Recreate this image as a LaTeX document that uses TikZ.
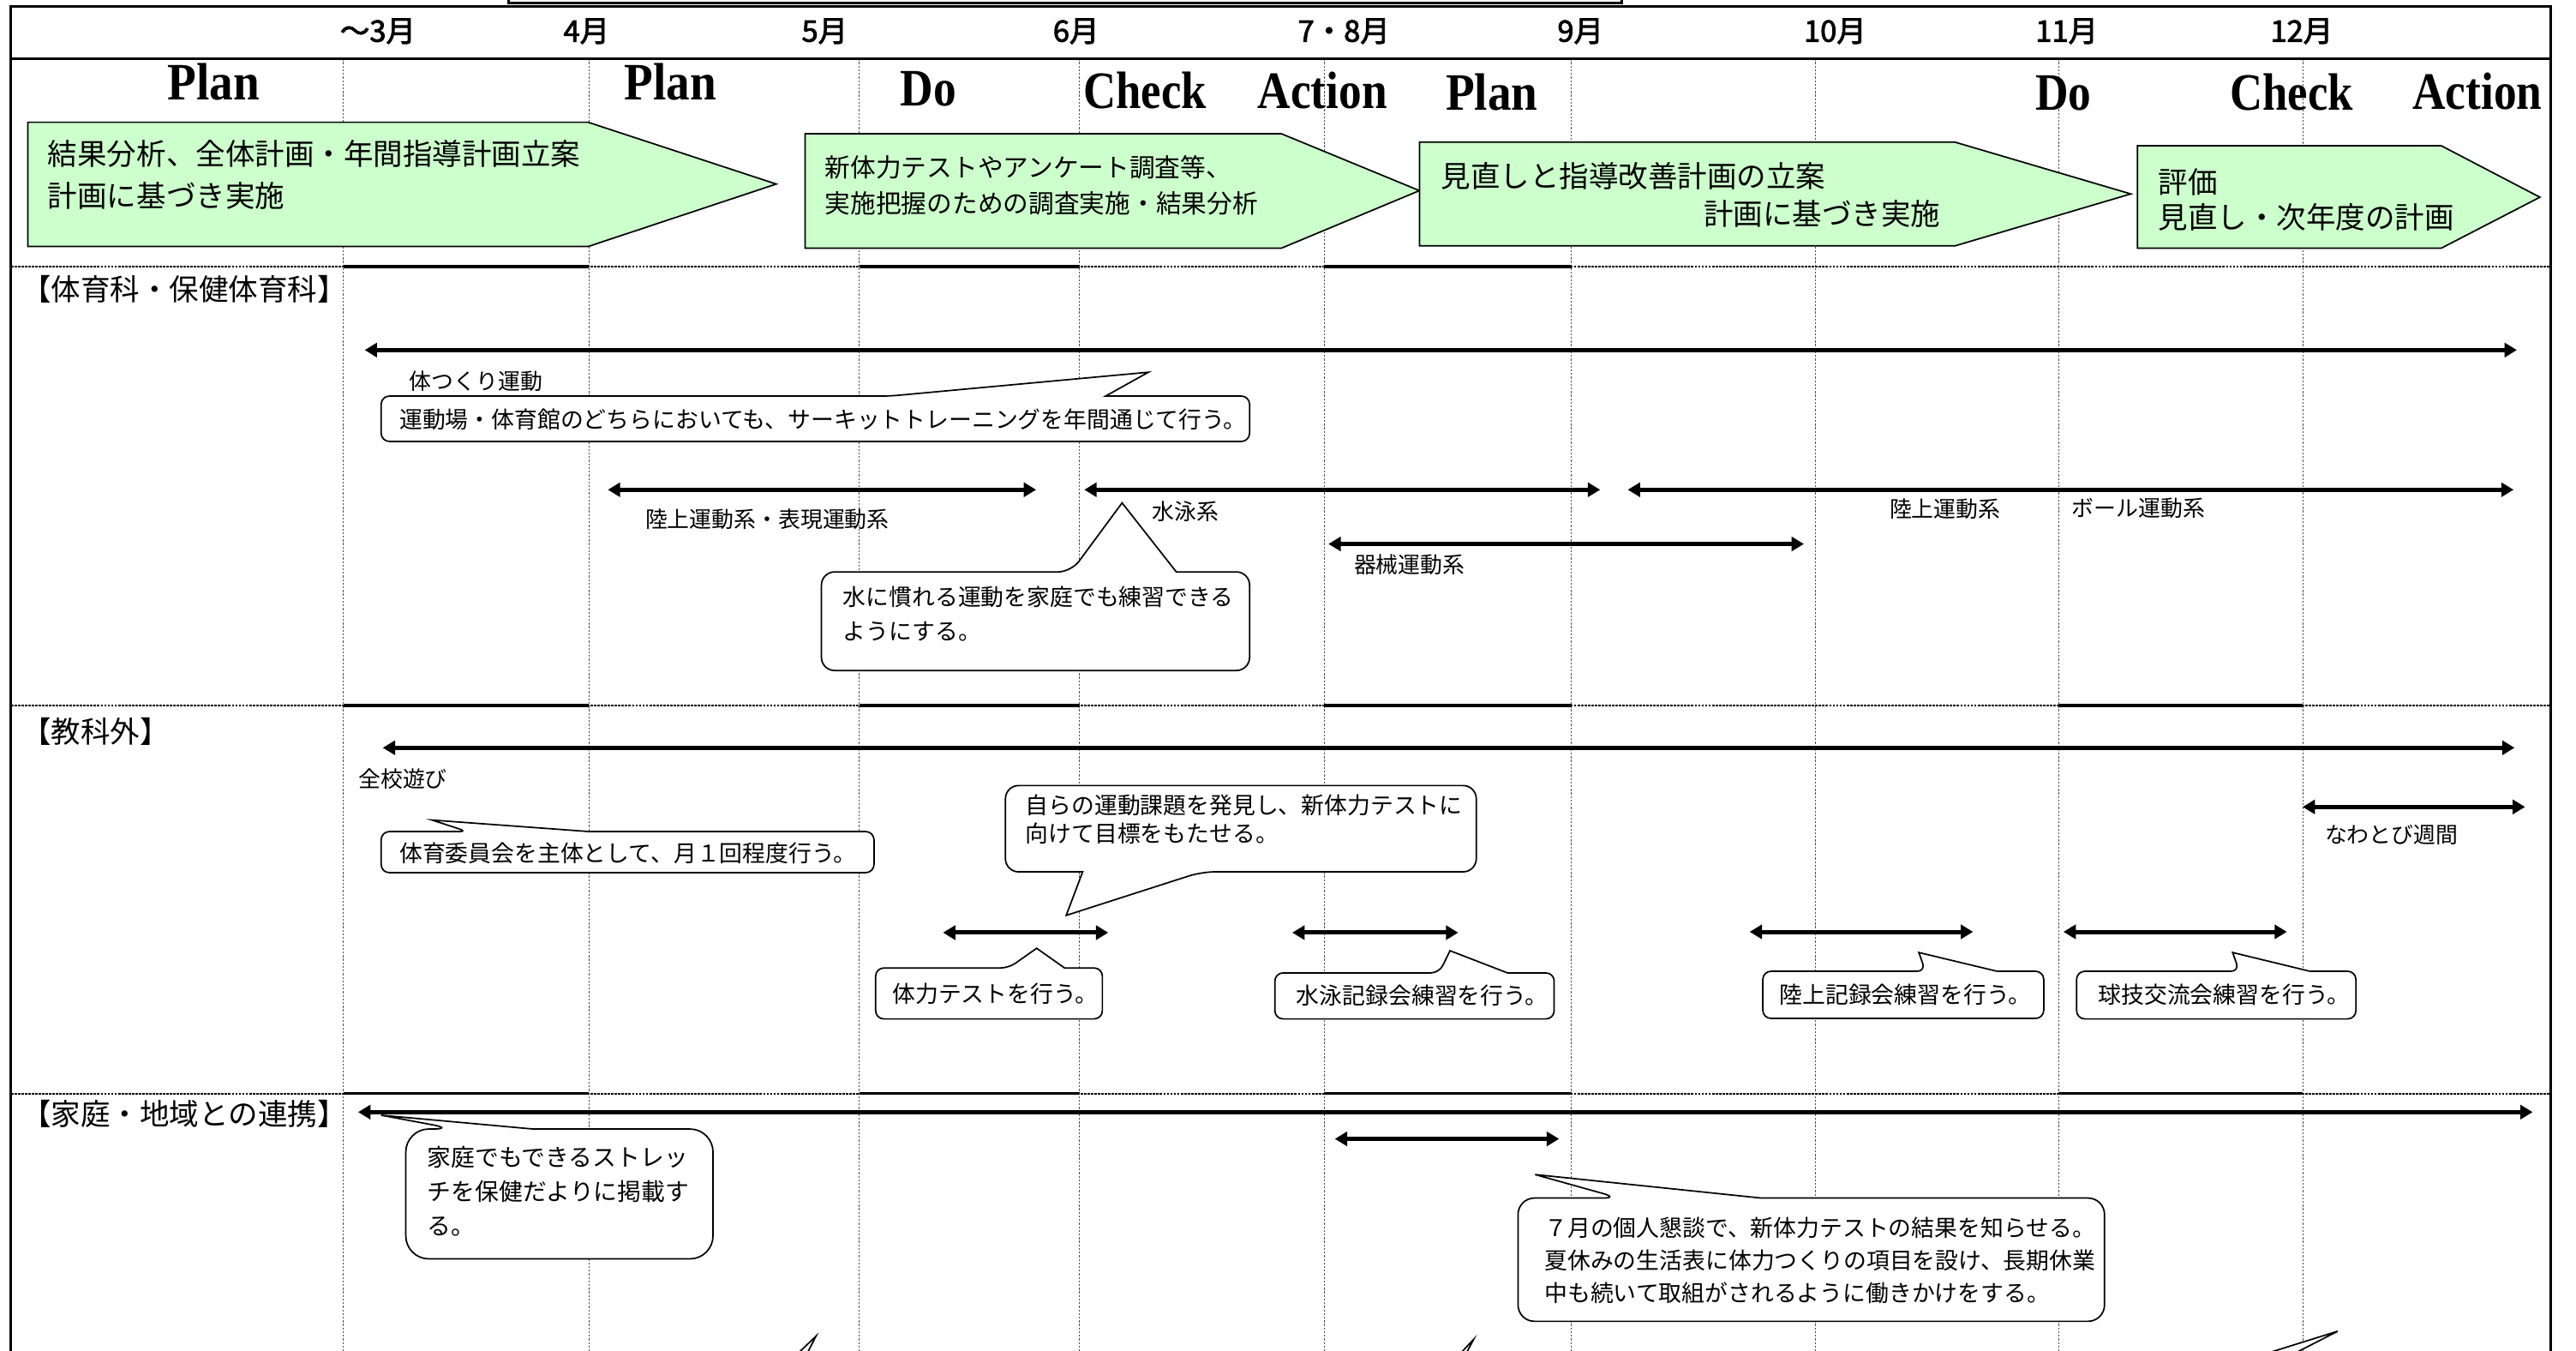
\documentclass[tikz,border=0pt]{standalone}
\usepackage{fontspec}
\usetikzlibrary{arrows.meta}
\newfontfamily\jp{Noto Sans CJK JP}
\newfontfamily\jpb{Noto Sans CJK JP}[FakeBold=2.5]
\newfontfamily\pdcafont{Liberation Serif}
\definecolor{pgreen}{HTML}{CCFFCC}
% callout with pointer on top edge: L,T,R,B, base ax,bx, tip x,y, radius
\newcommand\CallTop[9]{\draw[callbox] (#6,#2) [rounded corners=#9] -- (#3,#2) -- (#3,#4) -- (#1,#4) -- (#1,#2) -- (#5,#2) [sharp corners] -- (#7,#8) -- cycle;}
% callout with pointer on bottom edge
\newcommand\CallBot[9]{\draw[callbox] (#5,#4) [rounded corners=#9] -- (#1,#4) -- (#1,#2) -- (#3,#2) -- (#3,#4) -- (#6,#4) [sharp corners] -- (#7,#8) -- cycle;}
\tikzset{
 vline/.style={line width=0.5pt, draw=black!70, dash pattern=on 1.2pt off 1pt},
 hdot/.style={line width=1pt, dash pattern=on 1.5pt off 0.6pt},
 hsolid/.style={line width=1.7pt},
 framel/.style={line width=1.5pt},
 tlbar/.style={line width=2.6pt, {Triangle[length=7.5pt,width=8.5pt]}-{Triangle[length=7.5pt,width=8.5pt]}},
 pdcabox/.style={draw, line width=0.9pt, fill=pgreen, line join=miter},
 callbox/.style={draw, line width=0.9pt, fill=white, line join=miter},
 jt/.style={font=\jp\fontsize{14}{21}\selectfont, inner sep=0pt, anchor=west, align=left},
 lab/.style={font=\jp\fontsize{13.5}{16}\selectfont, inner sep=0pt, anchor=west},
 month/.style={font=\jpb\fontsize{18}{20}\selectfont, inner sep=0pt},
 pdca/.style={font=\pdcafont\bfseries\fontsize{32}{34}\selectfont, inner sep=0pt, anchor=base},
 arrtext/.style={font=\jp\fontsize{18}{25.5}\selectfont, inner sep=0pt, anchor=west, align=left},
 sect/.style={font=\jp\fontsize{18}{22}\selectfont, inner sep=0pt, anchor=west},
}
\begin{document}
\begin{tikzpicture}[x=1pt,y=-1pt]
\useasboundingbox (0,0) rectangle (1568,822);
\clip (0,0) rectangle (1568,822);
% month grid lines
\foreach \xx in {209,358.5,523,657,806,956.5,1105,1253,1401.6}
  \draw[vline] (\xx,35.6) -- (\xx,830);
% section dividers
\foreach \yy in {162.2,429.3,665.5}{
  \draw[hdot] (6.7,\yy) -- (1552.4,\yy);
  \draw[hsolid] (209,\yy) -- (358.5,\yy);
  \draw[hsolid] (523,\yy) -- (657,\yy);
  \draw[hsolid] (806,\yy) -- (956.5,\yy);
}
\foreach \yy in {429.3,665.5}
  \draw[hsolid] (1253,\yy) -- (1401.6,\yy);
% frame and header
\draw[line width=1.6pt] (309.5,-5) -- (309.5,1.6) -- (987,1.6) -- (987,-5);
\draw[framel] (6.7,830) -- (6.7,3.8) -- (1552.4,3.8) -- (1552.4,830);
\draw[framel] (6.7,35.6) -- (1552.4,35.6);
% months
\node[month] (m3) at (230,19) {～3月};
\node[month] (m4) at (357,19) {4月};
\node[month] (m5) at (502,19) {5月};
\node[month] (m6) at (655,19) {6月};
\node[month] (m78) at (818,19) {7・8月};
\node[month] (m9) at (962,19) {9月};
\node[month] (m10) at (1117,19) {10月};
\node[month] (m11) at (1258,19) {11月};
\node[month] (m12) at (1401,19) {12月};
% PDCA words
\node[pdca] (pa1) at (130,61) {\scalebox{0.9}[1]{Plan}};
\node[pdca] (pa2) at (408,61) {\scalebox{0.9}[1]{Plan}};
\node[pdca] (do1) at (565,64.3) {\scalebox{0.87}[1]{Do}};
\node[pdca] (ch1) at (697,66) {\scalebox{0.86}[1]{Check}};
\node[pdca] (ac1) at (805,66) {\scalebox{0.87}[1]{Action}};
\node[pdca] (pa3) at (908,67) {\scalebox{0.9}[1]{Plan}};
\node[pdca] (do2) at (1256,67) {\scalebox{0.87}[1]{Do}};
\node[pdca] (ch2) at (1395,67) {\scalebox{0.86}[1]{Check}};
\node[pdca] (ac2) at (1508,66.5) {\scalebox{0.87}[1]{Action}};
% green process arrows
\draw[pdcabox] (17,74.4) -- (358,74.4) -- (472.5,112) -- (358,150) -- (17,150) -- cycle;
\draw[pdcabox] (490,81.4) -- (780,81.4) -- (864,116) -- (780,151) -- (490,151) -- cycle;
\draw[pdcabox] (864,86.5) -- (1190,86.5) -- (1297,118) -- (1190,149.6) -- (864,149.6) -- cycle;
\draw[pdcabox] (1301,88.7) -- (1486,88.7) -- (1546,120) -- (1486,151) -- (1301,151) -- cycle;
\node[arrtext] (g1) at (29,106.3) {結果分析、全体計画・年間指導計画立案\\計画に基づき実施};
\node[arrtext, font=\jp\fontsize{15.5}{22}\selectfont] (g2) at (502,112.6) {新体力テストやアンケート調査等、\\実施把握のための調査実施・結果分析};
\node[arrtext] (g3a) at (877,107) {見直しと指導改善計画の立案};
\node[arrtext] (g3b) at (1037,130) {計画に基づき実施};
\node[arrtext, font=\jp\fontsize{18}{21}\selectfont] (g4) at (1313.5,121.5) {評価\\見直し・次年度の計画};
% section titles
\node[sect] (s1) at (13,176) {【体育科・保健体育科】};
\node[sect] (s2) at (13,445) {【教科外】};
\node[sect] (s3) at (13,678) {【家庭・地域との連携】};
% ---- section 1 bars
\coordinate (b1l) at (222,213);   \coordinate (b1r) at (1532,213);
\coordinate (b2l) at (370,298);   \coordinate (b2r) at (630.7,298);
\coordinate (b3l) at (660,298);   \coordinate (b3r) at (974,298);
\coordinate (b4l) at (990.8,298); \coordinate (b4r) at (1530,298);
\coordinate (b5l) at (808.6,331); \coordinate (b5r) at (1098,331);
\draw[tlbar] (b1l) -- (b1r);
\draw[tlbar] (b2l) -- (b2r);
\draw[tlbar] (b3l) -- (b3r);
\draw[tlbar] (b4l) -- (b4r);
\draw[tlbar] (b5l) -- (b5r);
\node[lab] (l1) at (249,232) {体つくり運動};
\node[lab] (l2) at (392.6,316) {陸上運動系・表現運動系};
\node[lab] (l3) at (701,311) {水泳系};
\node[lab] (l4) at (824,343.5) {器械運動系};
\node[lab] (l5) at (1150,309.5) {陸上運動系};
\node[lab] (l6) at (1261,309.5) {ボール運動系};
\CallTop{232}{241}{760.6}{268.6}{541.6}{673}{699}{226.5}{5}
\node[jt] (c1) at (243,255) {運動場・体育館のどちらにおいても、サーキットトレーニングを年間通じて行う。};
\CallTop{500}{348}{760.6}{408}{652}{716}{683}{306}{8}
\node[jt] (c2) at (513,373.5) {水に慣れる運動を家庭でも練習できる\\ようにする。};
% ---- section 2
\coordinate (b6l) at (233,455);     \coordinate (b6r) at (1530.6,455);
\coordinate (b7l) at (1401.6,491);  \coordinate (b7r) at (1537,491);
\coordinate (b8l) at (574,567.5);   \coordinate (b8r) at (674.6,567.5);
\coordinate (b9l) at (786.6,567.5); \coordinate (b9r) at (887.6,567.5);
\coordinate (b10l) at (1065,567);   \coordinate (b10r) at (1201,567);
\coordinate (b11l) at (1256,567);   \coordinate (b11r) at (1392,567);
\draw[tlbar] (b6l) -- (b6r);
\draw[tlbar] (b7l) -- (b7r);
\draw[tlbar] (b8l) -- (b8r);
\draw[tlbar] (b9l) -- (b9r);
\draw[tlbar] (b10l) -- (b10r);
\draw[tlbar] (b11l) -- (b11r);
\node[lab] (l7) at (218,473.8) {全校遊び};
\node[lab] (l8) at (1415,507.8) {なわとび週間};
\CallTop{232}{506}{532}{531}{284.5}{358.6}{263}{499}{5}
\node[jt] (c3) at (243,519) {体育委員会を主体として、月１回程度行う。};
\CallBot{612}{478}{898.6}{530.5}{659}{731.5}{649}{557}{8}
\node[jt, font=\jp\fontsize{14}{17.5}\selectfont] (c4) at (624,498.5) {自らの運動課題を発見し、新体力テストに\\向けて目標をもたせる。};
\CallTop{533}{589}{671}{620}{614}{648}{631}{577}{5}
\node[jt] (c5) at (543,604.5) {体力テストを行う。};
\CallTop{776}{592}{946}{620}{876}{917.6}{882.6}{578.5}{5}
\node[jt] (c6) at (789,606) {水泳記録会練習を行う。};
\CallTop{1073}{591}{1244}{619.7}{1172}{1215.6}{1168}{579.6}{5}
\node[jt] (c7) at (1083,605) {陸上記録会練習を行う。};
\CallTop{1264}{591}{1434}{620}{1363}{1406}{1359}{579.6}{5}
\node[jt] (c8) at (1277,605) {球技交流会練習を行う。};
% ---- section 3
\coordinate (b12l) at (218,676.7);  \coordinate (b12r) at (1541.6,676.7);
\coordinate (b13l) at (812.5,693);  \coordinate (b13r) at (949,693);
\draw[tlbar] (b12l) -- (b12r);
\draw[tlbar] (b13l) -- (b13r);
\CallTop{247}{687}{434}{766}{277}{324.5}{232}{678.6}{14}
\node[jt, font=\jp\fontsize{14.5}{21}\selectfont] (c9) at (260,725) {家庭でもできるストレッ\\チを保健だよりに掲載す\\る。};
\CallTop{924}{729}{1281}{804}{985.6}{1072}{934.4}{714.7}{10}
\node[jt, font=\jp\fontsize{14}{20}\selectfont] (c10) at (940,767) {７月の個人懇談で、新体力テストの結果を知らせる。\\夏休みの生活表に体力つくりの項目を設け、長期休業\\中も続いて取組がされるように働きかけをする。};
% pointers of callouts below the visible part
\draw[callbox] (479,830) -- (496.7,813) -- (488,830);
\draw[callbox] (882.8,830) -- (897,815) -- (889,830);
\draw[callbox] (1359,830) -- (1423,810) -- (1384,830);
\end{tikzpicture}
\end{document}
